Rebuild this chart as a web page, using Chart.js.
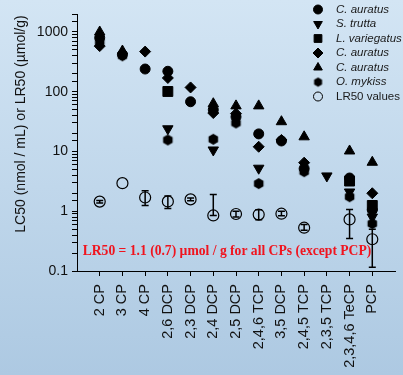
<!DOCTYPE html>
<html>
<head>
<meta charset="utf-8">
<script src="https://cdn.jsdelivr.net/npm/chart.js@4.4.0/dist/chart.umd.min.js"></script>
<style>
  html, body { margin: 0; padding: 0; }
  body { width: 403px; height: 375px; overflow: hidden; background: linear-gradient(#d3e5f4, #adc9e2); }
  #wrap { position: relative; width: 403px; height: 375px; }
</style>
</head>
<body>
<div id="wrap"><canvas id="myChart"></canvas></div>
<script>
// Categorias (clorofenoles)
const categories = ["2 CP", "3 CP", "4 CP", "2,6 DCP", "2,3 DCP", "2,4 DCP", "2,5 DCP",
  "2,4,6 TCP", "3,5 DCP", "2,4,5 TCP", "2,3,5 TCP", "2,3,4,6 TeCP", "PCP"];

// LC50 por especie (nmol / mL)
const cAuratusCircle   = [800, 420, 240, 220, 68, 50, 38, 19.7, 15, 5.2, null, 3.6, 1.05];
const sTrutta          = [null, null, null, 24, null, 10.6, null, 5.25, null, null, 3.9, 2.1, 0.8];
const lVariegatus      = [null, null, null, 101, null, null, null, null, null, null, null, 3.2, 1.25];
const cAuratusDiamond  = [580, null, 470, 170, 118, 44, 43, 12, 15.6, 6.5, null, null, 2.0];
const cAuratusTriangle = [1000, 480, null, null, null, 63, 58, 58, 31.5, 17.6, null, 10.2, 6.6];
const oMykiss          = [680, 400, null, 15.6, null, 16, 30, 2.9, null, 4.6, null, 1.75, 0.62];

// LR50 (umol/g) con barras de error
const lr50     = [1.45, 2.95, 1.7, 1.46, 1.58, 0.85, 0.9, 0.88, 0.91, 0.53, null, 0.73, 0.34];
const lr50Low  = [1.38, null, 1.25, 1.11, 1.5, 0.85, 0.8, 0.72, 0.84, 0.48, null, 0.35, 0.115];
const lr50High = [1.52, null, 2.2, 1.8, 1.66, 1.9, 1.0, 1.06, 1.0, 0.6, null, 1.07, 0.5];

const yTickLabels = [0.1, 1, 10, 100, 1000];

// Marcador hexagonal para O. mykiss
function hexagon(r) {
    const c = document.createElement("canvas");
    c.width = c.height = 2 * r + 2;
    const g = c.getContext("2d");
    g.fillStyle = "#000";
    g.beginPath();
    for (let k = 0; k < 6; k++) {
        const a = Math.PI / 6 + k * Math.PI / 3;
        const px = r + 1 + r * Math.cos(a), py = r + 1 + r * Math.sin(a);
        if (k === 0) g.moveTo(px, py); else g.lineTo(px, py);
    }
    g.closePath();
    g.fill();
    return c;
}
const hexBig = hexagon(5.5);
const hexSmall = hexagon(4.6);

function toPoints(arr) {
    return arr.map((v, i) => v == null ? null : {x: i + 1, y: v}).filter(p => p);
}

function series(label, arr, style, radius, rotation) {
    return {
        label: label,
        data: toPoints(arr),
        pointStyle: style,
        pointRadius: radius,
        pointRotation: rotation || 0,
        pointBackgroundColor: "#000",
        pointBorderColor: "#000",
        pointBorderWidth: 1,
        showLine: false
    };
}

const legendItems = [
    {text: "C. auratus", italic: true, style: "circle", r: 4.5, rot: 0},
    {text: "S. trutta", italic: true, style: "triangle", r: 5, rot: 180},
    {text: "L. variegatus", italic: true, style: "rect", r: 5.5, rot: 0},
    {text: "C. auratus", italic: true, style: "rectRot", r: 5, rot: 0},
    {text: "C. auratus", italic: true, style: "triangle", r: 5, rot: 0},
    {text: "O. mykiss", italic: true, style: hexSmall, r: 4.5, rot: 0},
    {text: "LR50 values", italic: false, style: "circle", r: 4.5, rot: 0, open: true}
];

const extras = {
    id: "extras",
    afterDatasetsDraw(chart) {
        const {ctx, scales: {x, y}} = chart;
        ctx.save();
        ctx.strokeStyle = "#000";
        ctx.lineWidth = 1.5;
        lr50.forEach((v, i) => {
            if (lr50Low[i] == null) return;
            const px = x.getPixelForValue(i + 1);
            const y1 = y.getPixelForValue(lr50Low[i]);
            const y2 = y.getPixelForValue(lr50High[i]);
            ctx.beginPath();
            ctx.moveTo(px, y1); ctx.lineTo(px, y2);
            ctx.moveTo(px - 3.5, y1); ctx.lineTo(px + 3.5, y1);
            ctx.moveTo(px - 3.5, y2); ctx.lineTo(px + 3.5, y2);
            ctx.stroke();
        });
        ctx.restore();
    },
    afterDraw(chart) {
        const ctx = chart.ctx;
        ctx.save();
        // leyenda
        legendItems.forEach((it, i) => {
            const yy = 9.5 + i * 14.5;
            ctx.fillStyle = it.open ? "rgba(0,0,0,0)" : "#000";
            ctx.strokeStyle = "#000";
            ctx.lineWidth = 1;
            Chart.helpers.drawPoint(ctx, {pointStyle: it.style, radius: it.r, rotation: it.rot, borderWidth: 1}, 318, yy);
            ctx.fillStyle = "#1a1a1a";
            ctx.font = (it.italic ? "italic " : "") + "11.5px 'Liberation Sans'";
            ctx.textAlign = "left";
            ctx.textBaseline = "middle";
            ctx.fillText(it.text, 336, yy);
        });
        // texto rojo
        ctx.fillStyle = "#f0141e";
        ctx.font = "bold 13.6px 'Liberation Serif'";
        ctx.textAlign = "center";
        ctx.textBaseline = "alphabetic";
        ctx.fillText("LR50 = 1.1 (0.7) \u00b5mol / g for all CPs (except PCP)", 227, 255);
        // titulo eje y
        ctx.translate(21, 124);
        ctx.rotate(-Math.PI / 2);
        ctx.fillStyle = "#111";
        ctx.font = "14px 'Liberation Sans'";
        ctx.textBaseline = "middle";
        ctx.fillText("LC50 (nmol / mL) or LR50 (\u00b5mol/g)", 0, 0);
        ctx.restore();
    }
};

const lrSet = {
    label: "LR50 values",
    data: toPoints(lr50),
    pointStyle: "circle",
    pointRadius: 5.5,
    pointBackgroundColor: "rgba(0,0,0,0)",
    pointBorderColor: "#000",
    pointBorderWidth: 1.2,
    showLine: false
};

let ctx = document.getElementById("myChart");
let myChart = new Chart(ctx, {
    type: "scatter",
    data: {
        datasets: [
            series("C. auratus", cAuratusCircle, "circle", 5),
            series("S. trutta", sTrutta, "triangle", 6, 180),
            series("L. variegatus", lVariegatus, "rect", 7),
            series("C. auratus", cAuratusDiamond, "rectRot", 5.5),
            series("C. auratus", cAuratusTriangle, "triangle", 6),
            series("O. mykiss", oMykiss, hexBig, 5),
            lrSet
        ]
    },
    options: {
        responsive: true,
        maintainAspectRatio: false,
        animation: false,
        layout: {padding: {top: 14, right: 0, left: 0, bottom: 0}},
        plugins: {legend: {display: false}, tooltip: {enabled: false}},
        scales: {
            x: {
                type: "linear",
                min: 0,
                max: 14,
                afterBuildTicks: s => { s.ticks = categories.map((c, i) => ({value: i + 1})); },
                afterFit: s => { s.height = 104; },
                ticks: {
                    callback: v => categories[v - 1] || "",
                    autoSkip: false,
                    minRotation: 90,
                    maxRotation: 90,
                    padding: 8,
                    color: "#111",
                    font: {family: "'Liberation Sans'", size: 14.5}
                },
                grid: {drawOnChartArea: false, tickLength: 5, color: "#000"},
                border: {color: "#000", width: 1}
            },
            y: {
                type: "logarithmic",
                min: 0.1,
                max: 2000,
                afterFit: s => { s.width = 77; },
                ticks: {
                    autoSkip: false,
                    callback: v => {
                        const hit = yTickLabels.find(t => Math.abs(t - v) < t * 1e-6);
                        return hit != null ? String(hit) : "";
                    },
                    padding: 4,
                    color: "#111",
                    font: {family: "'Liberation Sans'", size: 14}
                },
                grid: {drawOnChartArea: false, tickLength: 5, color: "#000"},
                border: {color: "#000", width: 1}
            }
        }
    },
    plugins: [extras]
});
</script>
</body>
</html>
